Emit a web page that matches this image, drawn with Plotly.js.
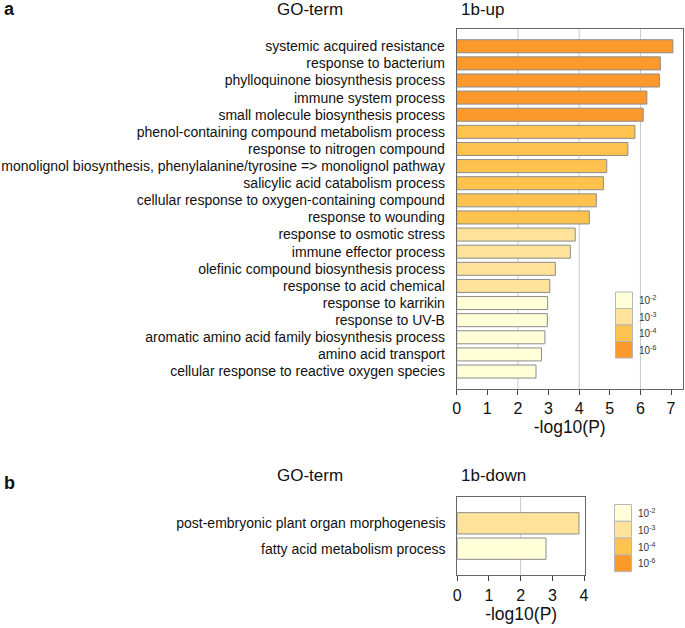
<!DOCTYPE html>
<html>
<head>
<meta charset="utf-8">
<script src="https://cdn.plot.ly/plotly-3.0.1.min.js"></script>
<style>
  body { margin: 0; background: #fff; }
  #chart { width: 685px; height: 628px; }
</style>
</head>
<body>
<div id="chart"></div>
<script>
// panel a: 1b-up
const upTerms = [
  "systemic acquired resistance",
  "response to bacterium",
  "phylloquinone biosynthesis process",
  "immune system process",
  "small molecule biosynthesis process",
  "phenol-containing compound metabolism process",
  "response to nitrogen compound",
  "monolignol biosynthesis, phenylalanine/tyrosine => monolignol pathway",
  "salicylic acid catabolism process",
  "cellular response to oxygen-containing compound",
  "response to wounding",
  "response to osmotic stress",
  "immune effector process",
  "olefinic compound biosynthesis process",
  "response to acid chemical",
  "response to karrikin",
  "response to UV-B",
  "aromatic amino acid family biosynthesis process",
  "amino acid transport",
  "cellular response to reactive oxygen species"
];
const upValues = [7.06, 6.65, 6.62, 6.21, 6.09, 5.82, 5.59, 4.90, 4.79, 4.56,
                  4.33, 3.87, 3.71, 3.22, 3.04, 2.97, 2.96, 2.88, 2.77, 2.59];
// p-value bin: 0 = 1e-2, 1 = 1e-3, 2 = 1e-4, 3 = 1e-6
const upBins = [3, 3, 3, 3, 3, 2, 2, 2, 2, 2, 2, 1, 1, 1, 1, 0, 0, 0, 0, 0];

// panel b: 1b-down
const downTerms = [
  "post-embryonic plant organ morphogenesis",
  "fatty acid metabolism process"
];
const downValues = [3.84, 2.80];
const downBins = [1, 0];

const binLabels = ["10<sup>-2</sup>", "10<sup>-3</sup>", "10<sup>-4</sup>", "10<sup>-6</sup>"];
const binColors = ["#FFFFD8", "#FFE39A", "#FEC24E", "#FD992B"];

const W = 685, H = 628;
const px = x => x / W;
const py = y => 1 - y / H;

const font = { family: "Liberation Sans, Arial, sans-serif", color: "#111" };

const traceA = {
  type: "bar", orientation: "h",
  x: upValues, y: upTerms,
  marker: { color: upBins.map(b => binColors[b]), line: { color: "#8c8c8c", width: 1 } },
  width: 0.76,
  xaxis: "x", yaxis: "y",
  hoverinfo: "x+y"
};
const traceB = {
  type: "bar", orientation: "h",
  x: downValues, y: downTerms,
  marker: { color: downBins.map(b => binColors[b]), line: { color: "#8c8c8c", width: 1 } },
  width: 0.84,
  xaxis: "x2", yaxis: "y2",
  hoverinfo: "x+y"
};

function xAxis(domain, range, anchor) {
  return {
    domain: domain, range: range, anchor: anchor,
    dtick: 1, tick0: 0,
    showgrid: false, zeroline: false,
    showline: true, mirror: true, linecolor: "#666", linewidth: 1,
    ticks: "outside", ticklen: 5, tickcolor: "#444",
    tickfont: { size: 16, color: "#111" },
    title: { text: "-log10(P)", font: { size: 17.5, color: "#111" }, standoff: 0 },
    automargin: false, fixedrange: true
  };
}
function yAxis(domain, range, anchor) {
  return {
    domain: domain, range: range, anchor: anchor,
    type: "category",
    showgrid: false, zeroline: false,
    showline: true, mirror: true, linecolor: "#666", linewidth: 1,
    ticks: "", ticklabelstandoff: 8,
    tickfont: { size: 14, color: "#111" },
    automargin: false, fixedrange: true
  };
}

// grid lines and legend swatches
const shapes = [];
[2, 4, 6].forEach(v => shapes.push({
  type: "line", xref: "x", yref: "y domain", x0: v, x1: v, y0: 0, y1: 1,
  line: { color: "#c8c8c8", width: 1 }, layer: "below"
}));
shapes.push({
  type: "line", xref: "x2", yref: "y2 domain", x0: 2, x1: 2, y0: 0, y1: 1,
  line: { color: "#c8c8c8", width: 1 }, layer: "below"
});

const annotations = [];
function legend(x0, yTop, h) {
  binColors.forEach((c, i) => {
    shapes.push({
      type: "rect", xref: "paper", yref: "paper",
      x0: px(x0), x1: px(x0 + 17), y0: py(yTop + i * h), y1: py(yTop + (i + 1) * h),
      fillcolor: c, line: { color: "#b8b8b8", width: 1 }
    });
    annotations.push({
      xref: "paper", yref: "paper", x: px(x0 + 21), y: py(yTop + (i + 0.5) * h),
      xanchor: "left", yanchor: "middle", showarrow: false,
      text: binLabels[i], font: { size: 10, color: "#333", family: font.family }
    });
  });
}
legend(615.5, 292, 16.5);
legend(614.5, 504.5, 16.8);

function label(text, x, y, size, bold, anchor) {
  annotations.push({
    xref: "paper", yref: "paper", x: px(x), y: py(y),
    xanchor: anchor || "center", yanchor: "middle", showarrow: false,
    text: bold ? "<b>" + text + "</b>" : text,
    font: { size: size, color: "#111", family: font.family }
  });
}
label("a", 2, 9, 18, true, "left");
label("GO-term", 310, 10, 17);
label("1b-up", 459, 10, 17, false, "left");
label("b", 2, 483, 18, true, "left");
label("GO-term", 310, 475, 17);
label("1b-down", 459, 475, 17, false, "left");

const layout = {
  width: W, height: H,
  margin: { l: 0, r: 0, t: 0, b: 0 },
  paper_bgcolor: "#fff", plot_bgcolor: "#fff",
  font: font,
  showlegend: false,
  xaxis: xAxis([px(456.7), px(682.7)], [0, 7.38], "y"),
  yaxis: yAxis([py(389), py(29.3)], [20.02, -0.99], "x"),
  xaxis2: xAxis([px(457.3), px(585)], [0, 4.03], "y2"),
  yaxis2: yAxis([py(575.3), py(496.7)], [2.05, -1.05], "x2"),
  shapes: shapes,
  annotations: annotations
};

Plotly.newPlot("chart", [traceA, traceB], layout, { displayModeBar: false, staticPlot: true });
</script>
</body>
</html>
